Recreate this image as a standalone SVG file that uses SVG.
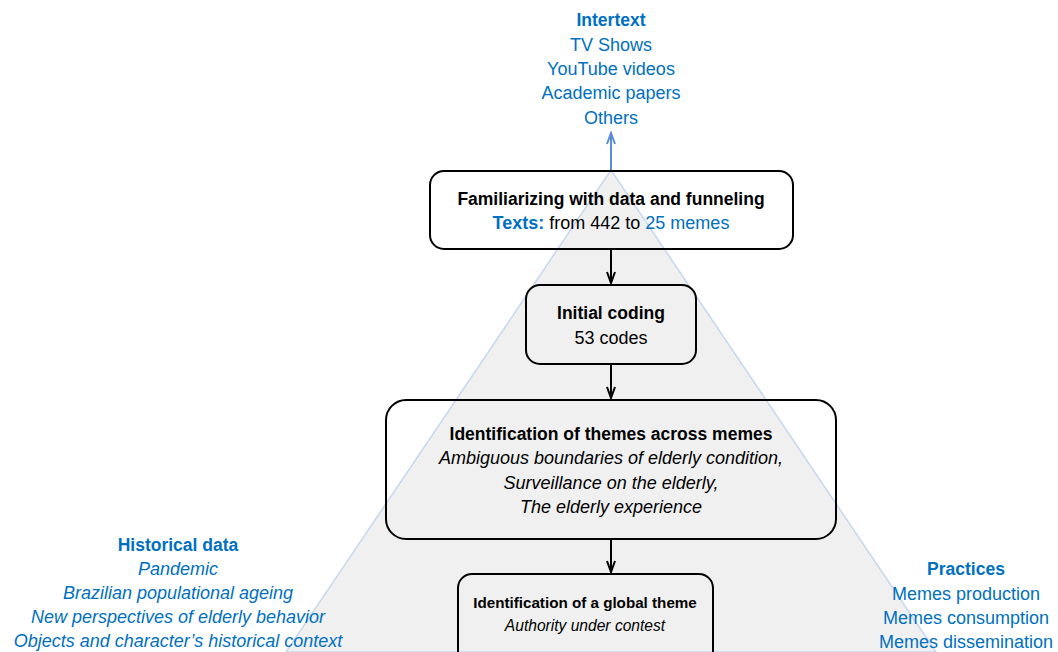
<svg xmlns="http://www.w3.org/2000/svg" width="1058" height="652" viewBox="0 0 1058 652">
<style>
text{font-family:"Liberation Sans",Arial,sans-serif;font-size:18px;text-anchor:middle;fill:#000}
.b{font-weight:bold;font-size:17.5px}
.i{font-style:italic}
.blue{fill:#0070c0}
.sm{font-size:15.6px}
.smb{font-size:15.2px}
.box{stroke:#000;stroke-width:2;fill:none}
.conn{stroke:#000;stroke-width:2;fill:none}
</style>
<defs>
<marker id="ah" viewBox="0 0 14 10" refX="12" refY="5" markerWidth="14" markerHeight="10" markerUnits="userSpaceOnUse" orient="auto">
<path d="M1,1 L12,5 L1,9" fill="none" stroke="#000" stroke-width="2"/>
</marker>
<marker id="ahb" viewBox="0 0 14 10" refX="12" refY="5" markerWidth="14" markerHeight="10" markerUnits="userSpaceOnUse" orient="auto">
<path d="M1,1 L12,5 L1,9" fill="none" stroke="#5a8ed6" stroke-width="2"/>
</marker>
</defs>
<rect width="1058" height="652" fill="#fff"/>
<polygon id="funnel" points="611,170 286,652 936,652" fill="#f0f0f0" stroke="#c6d7ee" stroke-width="1.5"/>
<g id="connectors">
<line x1="611" y1="170" x2="611" y2="133" stroke="#5a8ed6" stroke-width="2" marker-end="url(#ahb)"/>
<line class="conn" x1="611" y1="250" x2="611" y2="283" marker-end="url(#ah)"/>
<line class="conn" x1="611" y1="364" x2="611" y2="398" marker-end="url(#ah)"/>
<line class="conn" x1="611" y1="539" x2="611" y2="572" marker-end="url(#ah)"/>
</g>
<g id="intertext">
<text class="b blue" x="611" y="26">Intertext</text>
<text class="blue" x="611" y="51">TV Shows</text>
<text class="blue" x="611" y="75">YouTube videos</text>
<text class="blue" x="611" y="99">Academic papers</text>
<text class="blue" x="611" y="124">Others</text>
</g>
<g id="familiarizing">
<rect class="box" x="430" y="171" width="363" height="78" rx="14"/>
<text class="b" x="611" y="205">Familiarizing with data and funneling</text>
<text x="611" y="229"><tspan class="b blue" style="font-size:18px">Texts:</tspan> from 442 to <tspan class="blue">25 memes</tspan></text>
</g>
<g id="initial-coding">
<rect class="box" x="526" y="285" width="170" height="79" rx="14"/>
<text class="b" x="611" y="319">Initial coding</text>
<text x="611" y="344">53 codes</text>
</g>
<g id="themes">
<rect class="box" x="386" y="400" width="450" height="139" rx="20"/>
<text class="b" x="611" y="440">Identification of themes across memes</text>
<text class="i" x="611" y="464">Ambiguous boundaries of elderly condition,</text>
<text class="i" x="611" y="489">Surveillance on the elderly,</text>
<text class="i" x="611" y="513">The elderly experience</text>
</g>
<g id="global-theme">
<rect class="box" x="458" y="574" width="255" height="100" rx="14"/>
<text class="b smb" x="585" y="608">Identification of a global theme</text>
<text class="i sm" x="585" y="631">Authority under contest</text>
</g>
<g id="historical">
<text class="b blue" x="178" y="551">Historical data</text>
<text class="i blue" x="178" y="575">Pandemic</text>
<text class="i blue" x="178" y="599">Brazilian populational ageing</text>
<text class="i blue" x="178" y="623">New perspectives of elderly behavior</text>
<text class="i blue" x="178" y="647">Objects and character’s historical context</text>
</g>
<g id="practices">
<text class="b blue" x="966" y="575">Practices</text>
<text class="blue" x="966" y="600">Memes production</text>
<text class="blue" x="966" y="624">Memes consumption</text>
<text class="blue" x="966" y="648">Memes dissemination</text>
</g>
</svg>
